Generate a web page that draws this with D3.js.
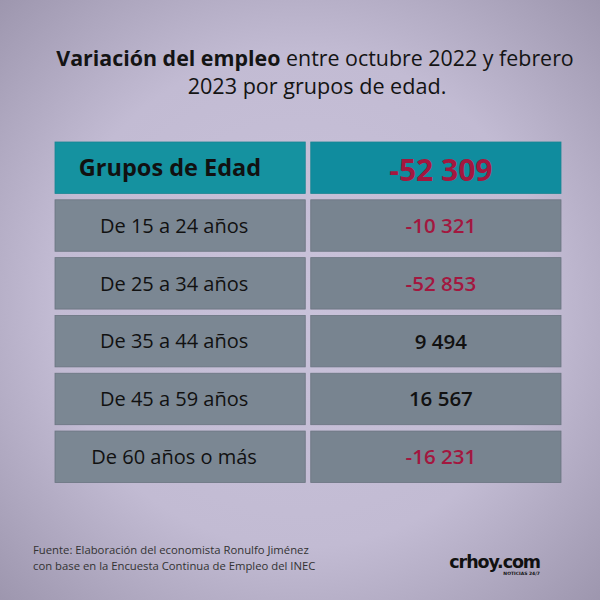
<!DOCTYPE html>
<html><head><meta charset="utf-8">
<script src="https://cdn.jsdelivr.net/npm/d3@7"></script>
<style>html,body{margin:0;padding:0;background:#c4bdd5;}svg{display:block;}</style>
</head><body>
<svg id="c" width="600" height="600"></svg>
<script>
const titleBold = "Variación del empleo";
const titleRest1 = " entre octubre 2022 y febrero";
const titleLine2 = "2023 por grupos de edad.";
const headerLabel = "Grupos de Edad";
const totalValue = -52309;
const groups = ["De 15 a 24 años","De 25 a 34 años","De 35 a 44 años","De 45 a 59 años","De 60 años o más"];
const values = [-10321, -52853, 9494, 16567, -16231];
const sourceLines = ["Fuente: Elaboración del economista Ronulfo Jiménez","con base en la Encuesta Continua de Empleo del INEC"];
const brand = "crhoy.com";
const brandSub = "NOTICIAS 24/7";

const FONT = "'Open Sans', 'Noto Sans', sans-serif";
const svg = d3.select("#c");
const defs = svg.append("defs");
const rg = defs.append("radialGradient").attr("id","bg").attr("cx","50%").attr("cy","50%").attr("r","75%");
rg.append("stop").attr("offset","0%").attr("stop-color","#c9c2da");
rg.append("stop").attr("offset","55%").attr("stop-color","#c2bbd3");
rg.append("stop").attr("offset","100%").attr("stop-color","#9891a9");
svg.append("rect").attr("width",600).attr("height",600).attr("fill","url(#bg)");

const locale = d3.formatLocale({decimal:",",thousands:" ",grouping:[3],currency:["",""],minus:"-"});
const fmt = locale.format(",d");

// title
const t1 = svg.append("text").attr("x",315).attr("y",66).attr("text-anchor","middle")
  .attr("font-family",FONT).attr("font-size",21.4).attr("fill","#141414");
t1.append("tspan").attr("font-weight",700).text(titleBold);
t1.append("tspan").attr("font-weight",400).text(titleRest1);
svg.append("text").attr("x",317).attr("y",94).attr("text-anchor","middle")
  .attr("font-family",FONT).attr("font-size",21.6).attr("fill","#141414").text(titleLine2);

const rows = ["header", ...groups];
const y = d3.scaleBand().domain(rows).range([142, 482.5]).paddingInner(0.11).paddingOuter(0);
const x = d3.scaleBand().domain(["label","value"]).range([55, 561]).paddingInner(0.0215).paddingOuter(0);

const rowData = [{key:"header", label:headerLabel, value:totalValue, header:true}]
  .concat(groups.map((g,i)=>({key:g, label:g, value:values[i], header:false})));

const rowG = svg.selectAll("g.row").data(rowData).join("g").attr("class","row")
  .attr("transform", d=>`translate(0,${y(d.key)})`);

["label","value"].forEach(col=>{
  rowG.append("rect").attr("x",x(col)).attr("y",0).attr("width",x.bandwidth()).attr("height",y.bandwidth())
    .attr("fill", d=> d.header ? (col==="label" ? "#1592a0" : "#108c9e") : (col==="label" ? "#7b8793" : "#788490"))
    .attr("stroke", d=> d.header ? "#1a8592" : "#6a7480").attr("stroke-width",0.8);
});

rowG.append("text").attr("x", d=> d.header ? 170 : x("label")+x.bandwidth()/2 - 6)
  .attr("y", y.bandwidth()/2).attr("dy","0.36em").attr("text-anchor","middle")
  .attr("font-family",FONT).attr("font-size", d=>d.header?23.5:20)
  .attr("font-weight", d=>d.header?700:400).attr("fill","#111")
  .text(d=>d.label);

rowG.append("text").attr("x", d=> x("value")+x.bandwidth()/2 + 5)
  .attr("y", d=> y.bandwidth()/2 + (d.header?2:0)).attr("dy","0.36em").attr("text-anchor","middle")
  .attr("font-family",FONT).attr("font-size", d=>d.header?30:20.5)
  .attr("font-weight", d=>d.header?700:600)
  .attr("fill", d=> d.value<0 ? "#a3173f" : "#111")
  .text(d=>fmt(d.value));

// source
svg.selectAll("text.src").data(sourceLines).join("text").attr("class","src")
  .attr("x",33).attr("y",(d,i)=>554+i*16).attr("font-family",FONT).attr("font-size",11.3)
  .attr("fill","#333").text(d=>d);

// brand
svg.append("text").attr("x",540).attr("y",568).attr("text-anchor","end")
  .attr("font-family","'DejaVu Sans', sans-serif").attr("font-size",17.5).attr("font-weight",700)
  .attr("letter-spacing",-1.1).attr("fill","#111").text(brand);
svg.append("text").attr("x",540).attr("y",575).attr("text-anchor","end")
  .attr("font-family","'DejaVu Sans', sans-serif").attr("font-size",4.5).attr("font-weight",700)
  .attr("fill","#111").text(brandSub);
</script>
</body></html>
